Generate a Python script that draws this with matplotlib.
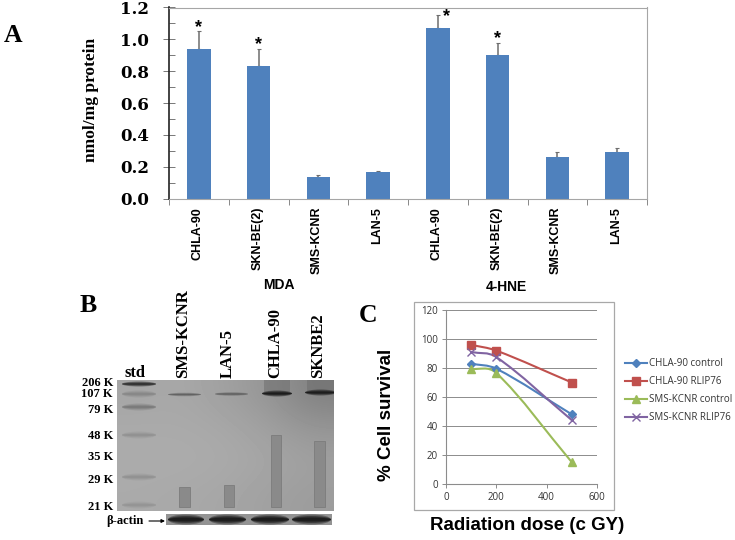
import numpy as np
import matplotlib.pyplot as plt
from matplotlib.patches import Rectangle, PathPatch, Ellipse
from matplotlib.path import Path

W, H = 735, 540

# panel A
cells = ['CHLA-90', 'SKN-BE(2)', 'SMS-KCNR', 'LAN-5', 'CHLA-90', 'SKN-BE(2)', 'SMS-KCNR', 'LAN-5']
means = [0.94, 0.83, 0.135, 0.165, 1.07, 0.90, 0.26, 0.29]
errs = [0.11, 0.11, 0.01, 0.01, 0.08, 0.08, 0.03, 0.03]
starred = [0, 1, 4, 5]
groups = ['MDA', '4-HNE']

# panel B
mw_labels = ['206 K', '107 K', '79 K', '48 K', '35 K', '29 K', '21 K']
lanes = ['SMS-KCNR', 'LAN-5', 'CHLA-90', 'SKNBE2']

# panel C
dose = [100, 200, 500]
chla_control = [83, 79.5, 48]
chla_rlip = [96, 92, 70]
kcnr_control = [79.5, 76.5, 15]
kcnr_rlip = [91, 87.5, 44]
series_names = ['CHLA-90 control', 'CHLA-90 RLIP76', 'SMS-KCNR control', 'SMS-KCNR RLIP76']

SERIF = 'Liberation Serif'
SANS = 'Liberation Sans'


def px_axes(x0, y0, x1, y1):
    # axes box given in image pixels (y down)
    return fig.add_axes([x0 / W, 1 - y1 / H, (x1 - x0) / W, (y1 - y0) / H])


def smooth_path(xs, ys):
    # smoothed line through the points, tangents scaled to the x gap of each segment
    xs = np.array(xs, dtype=float)
    ys = np.array(ys, dtype=float)
    n = len(xs)
    slopes = np.zeros(n)
    for i in range(n):
        a, b = max(i - 1, 0), min(i + 1, n - 1)
        slopes[i] = (ys[b] - ys[a]) / (xs[b] - xs[a])
    verts = [(xs[0], ys[0])]
    codes = [Path.MOVETO]
    for i in range(n - 1):
        d = (xs[i + 1] - xs[i]) / 3
        verts += [(xs[i] + d, ys[i] + slopes[i] * d), (xs[i + 1] - d, ys[i + 1] - slopes[i + 1] * d),
                  (xs[i + 1], ys[i + 1])]
        codes += [Path.CURVE4] * 3
    return Path(verts, codes)


fig = plt.figure(figsize=(W / 100, H / 100), dpi=100)

# pixel overlay for the free text
page = fig.add_axes([0, 0, 1, 1])
page.set_xlim(0, W)
page.set_ylim(H, 0)
page.axis('off')

page.text(13.5, 35, 'A', family=SERIF, weight='bold', fontsize=18.5, ha='center', va='center')
page.text(88, 305, 'B', family=SERIF, weight='bold', fontsize=18.5, ha='center', va='center')
page.text(368, 315, 'C', family=SERIF, weight='bold', fontsize=18.5, ha='center', va='center')

# ---- A ----
ax = px_axes(169, 7.5, 647, 198.5)
x = np.arange(len(cells))
ax.bar(x, means, width=0.39, color='#4f81bd', zorder=2)
ax.errorbar(x, means, yerr=[np.zeros(len(errs)), errs], fmt='none', ecolor='#6e6e6e',
            elinewidth=1.1, capsize=1.5, capthick=0.8, zorder=1)
ax.set_xlim(-0.5, 7.5)
ax.set_ylim(0, 1.2)
ax.set_yticks(np.arange(0, 1.21, 0.2))
ax.set_yticks(np.arange(0.1, 1.2, 0.2), minor=True)
ax.set_yticklabels(['%.1f' % v for v in np.arange(0, 1.21, 0.2)], family='DejaVu Serif',
                   weight='bold', fontsize=12)
ax.set_xticks(np.arange(-0.5, 8, 1))
ax.set_xticklabels([])
ax.tick_params(axis='y', which='major', direction='inout', length=9, width=0.7, color='#777777', pad=10)
ax.tick_params(axis='y', which='minor', direction='in', length=4.5, width=0.7, color='#777777')
ax.tick_params(axis='x', direction='out', length=4, width=0.7, color='#888888')
for s in ['top', 'right', 'bottom']:
    ax.spines[s].set_color('#a6a6a6')
ax.spines['left'].set_color('#222222')
ax.spines['left'].set_linewidth(1.2)
for i, name in enumerate(cells):
    ax.annotate(name, xy=(i, 0), xytext=(-1, -6), textcoords='offset points', rotation=90,
                ha='center', va='top', family=SANS, weight='bold', fontsize=9, annotation_clip=False)
for i in starred:
    dx, dy = (6, -1) if i == 4 else (0, 3)
    ax.annotate('*', xy=(i, means[i] + errs[i]), xytext=(dx, dy), textcoords='offset points',
                ha='center', va='center', family=SANS, weight='bold', fontsize=13, annotation_clip=False)
page.text(279, 285, groups[0], family=SANS, weight='bold', fontsize=10, ha='center', va='center')
page.text(506, 287, groups[1], family=SANS, weight='bold', fontsize=10, ha='center', va='center')
page.text(91, 100, 'nmol/mg protein', family=SERIF, weight='bold', fontsize=12.5, rotation=90,
          ha='center', va='center')

# ---- B ----
gel = px_axes(117, 380, 334, 511)
gel_shade = [[166, 168, 160, 150, 128],
             [170, 170, 168, 160, 150],
             [172, 172, 170, 166, 160],
             [170, 168, 166, 160, 156]]
gel.imshow(gel_shade, cmap='gray', vmin=0, vmax=255, extent=(117, 334, 511, 380), aspect='auto',
           interpolation='bicubic')
gel.set_xlim(117, 334)
gel.set_ylim(511, 380)
gel.axis('off')


def band(x0, x1, y, h, shade, alpha):
    for k, a in [(1.0, alpha * 0.45), (0.65, alpha * 0.55), (0.35, alpha * 0.7)]:
        gel.add_patch(Ellipse(((x0 + x1) / 2, y), x1 - x0, 2 * h * k, color=shade, alpha=a, lw=0))


# std ladder
band(122, 156, 384, 2.5, '#222222', 0.9)
for y, a in [(394, 0.25), (407, 0.4), (435, 0.18), (477, 0.18), (505, 0.15)]:
    band(122, 156, y, 3.5, '#555555', a)
# sample bands
band(168, 201, 394.5, 1.8, '#444444', 0.55)
band(215, 248, 394, 1.8, '#444444', 0.55)
gel.add_patch(Rectangle((264, 380), 26, 12, color='#6e6e6e', alpha=0.55, lw=0))
gel.add_patch(Rectangle((307, 380), 27, 11, color='#6e6e6e', alpha=0.55, lw=0))
band(262, 292, 393.5, 3, '#111111', 0.95)
band(305, 336, 392.5, 3, '#111111', 0.9)
# density boxes
for x0, x1, top in [(179, 190, 487), (224, 234, 485), (271, 281, 435), (314, 325, 441)]:
    gel.add_patch(Rectangle((x0, top), x1 - x0, 507 - top, facecolor='#8a8a8a', edgecolor='#7c7c7c', lw=0.6))

for label, y in zip(mw_labels, [383, 394, 410, 436, 457, 480, 507]):
    page.text(113, y, label, family=SERIF, weight='bold', fontsize=9, ha='right', va='center')
page.text(135, 373, 'std', family=SERIF, weight='bold', fontsize=12, ha='center', va='center')
for label, xc in zip(lanes, [183, 228, 275, 318]):
    page.text(xc, 378, label, family=SERIF, weight='bold', fontsize=12, rotation=90, ha='center', va='bottom')

# actin strip
page.add_patch(Rectangle((166, 514), 166, 11, color='#939393', lw=0))
for x0, x1 in [(168, 204), (209, 246), (251, 289), (292, 331)]:
    for k, a in [(5, 0.4), (3.4, 0.6), (2, 0.9)]:
        page.add_patch(Ellipse(((x0 + x1) / 2, 519.5), x1 - x0, 2 * k, color='#1c1c1c', alpha=a, lw=0))
page.text(144, 521, '\u03b2-actin', family=SERIF, weight='bold', fontsize=9, ha='right', va='center')
page.annotate('', xy=(165, 521), xytext=(149, 521), arrowprops=dict(arrowstyle='-|>', lw=0.8, color='black',
                                                                    mutation_scale=5, shrinkA=0, shrinkB=0))

# ---- C ----
page.add_patch(Rectangle((414, 302), 200, 208, facecolor='white', edgecolor='#a8a8a8', lw=0.9))
cx = px_axes(446, 310, 597, 484)
colors = ['#4f81bd', '#c0504d', '#9bbb59', '#8064a2']
markers = ['D', 's', '^', 'x']
sizes = [4.5, 6, 6, 6]
all_series = [chla_control, chla_rlip, kcnr_control, kcnr_rlip]
for vals, col, m, ms, name in zip(all_series, colors, markers, sizes, series_names):
    cx.add_patch(PathPatch(smooth_path(dose, vals), facecolor='none', edgecolor=col, lw=1.5, zorder=3))
    cx.plot(dose, vals, ls='none', marker=m, ms=ms, color=col, mew=1, zorder=4, clip_on=False)
    # legend proxy, line plus marker
    cx.plot([], [], '-', marker=m, ms=ms, color=col, lw=1.5, mew=1, label=name)
cx.set_xlim(0, 600)
cx.set_ylim(0, 120)
cx.set_xticks([0, 200, 400, 600])
cx.set_yticks(range(0, 121, 20))
cx.set_xticklabels(['0', '200', '400', '600'], family='Open Sans')
cx.set_yticklabels([str(v) for v in range(0, 121, 20)], family='Open Sans')
cx.grid(axis='y', color='#8c8c8c', lw=0.7)
cx.set_axisbelow(True)
cx.tick_params(labelsize=7, length=3, width=0.7, color='#8c8c8c', labelcolor='#333333', pad=3)
for s in ['top', 'right']:
    cx.spines[s].set_visible(False)
for s in ['left', 'bottom']:
    cx.spines[s].set_color('#8c8c8c')
leg = cx.legend(loc='center left', bbox_to_anchor=(625 / W, 1 - 391 / H), bbox_transform=fig.transFigure,
                frameon=False, prop={'family': 'Open Sans', 'size': 7}, labelspacing=0.72,
                handlelength=2.27, handletextpad=0.2, borderpad=0, borderaxespad=0)
for t in leg.get_texts():
    t.set_color('#333333')
page.text(387, 415, '% Cell survival', family=SANS, weight='bold', fontsize=13.5, rotation=90,
          ha='center', va='center')
page.text(527, 525, 'Radiation dose (c GY)', family=SANS, weight='bold', fontsize=13.5, ha='center', va='center')

plt.savefig('out.png', dpi=100)
